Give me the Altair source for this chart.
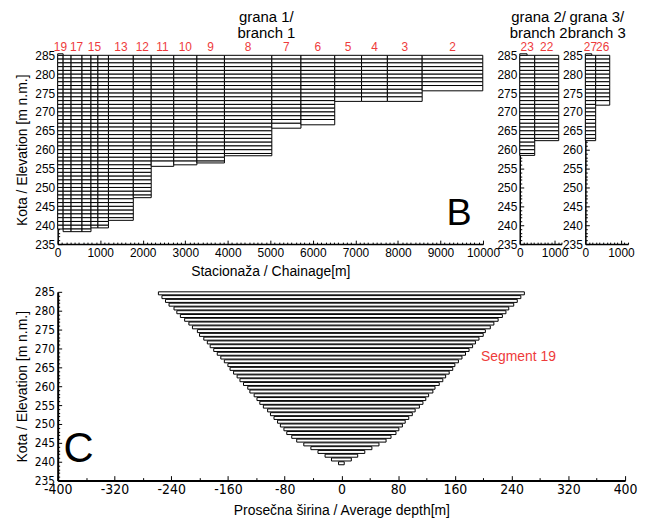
import altair as alt
import pandas as pd

# ---------------- data ----------------
TOP = 285.0
ROW = 1.0

# branch 1 segments (chainage start / end [m], bed elevation [m n.m.])
b1_label = ["19", "", "17", "", "15", "", "13", "12", "11", "10", "9", "8", "7", "6", "5", "4", "3", "2"]
b1_start = [0, 128, 315, 572, 783, 946, 1194, 1778, 2199, 2729, 3273, 3921, 5035, 5720, 6514, 7145, 7752, 8570]
b1_end = [128, 315, 572, 783, 946, 1194, 1778, 2199, 2729, 3273, 3921, 5035, 5720, 6514, 7145, 7752, 8570, 9995]
b1_bottom = [239.0, 238.3, 238.3, 238.3, 239.3, 239.3, 241.3, 247.3, 255.6, 256.0, 256.5, 258.4, 265.7, 266.6, 272.8, 272.8, 272.8, 275.6]

# branch 2
b2_label = ["23", "22"]
b2_start = [0, 430]
b2_end = [430, 1120]
b2_bottom = [258.5, 262.4]

# branch 3
b3_label = ["27", "26"]
b3_start = [0, 290]
b3_end = [290, 685]
b3_bottom = [262.4, 271.8]

# small cap boxes on the first segment of each branch
cap_end = [128, 210, 180]
cap_top = 285.4

# segment 19 cross-section: elevation levels and half widths [m]
c_elev = [285, 284, 283, 282, 281, 280, 279, 278, 277, 276, 275, 274, 273, 272, 271, 270,
          269, 268, 267, 266, 265, 264, 263, 262, 261, 260, 259, 258, 257, 256, 255, 254,
          253, 252, 251, 250, 249, 248, 247, 246, 245, 244, 243, 242, 241, 240]
c_half = [258, 253, 248, 243, 236, 232, 227, 221, 215, 210, 203, 200, 194, 189, 185, 180,
          175, 170, 165, 160, 157, 152, 147, 143, 138, 132, 129, 123, 119, 115, 110, 104,
          100, 95, 90, 86, 81, 77, 70, 63, 53, 43, 33, 23, 14, 4]

y_ticks = list(range(235, 286))
xb_ticks = list(range(0, 10001, 100))
xs_ticks = list(range(0, 1201, 100))
xc_ticks = list(range(-400, 401, 40))

FONT = "Liberation Sans"
NARROW = "Liberation Sans Narrow, DejaVu Sans Condensed, Liberation Sans"
RED = "#ee3b3b"


def rows(labels, starts, ends, bottoms, cap):
    out = []
    for lab, a, b, bot in zip(labels, starts, ends, bottoms):
        t = TOP
        while t > bot + 1e-6:
            lo = t - ROW
            if lo - bot < 0.5 * ROW:
                lo = bot
            out.append({"x": a, "x2": b, "y": lo, "y2": t})
            t = lo
    out.append({"x": starts[0], "x2": cap, "y": TOP, "y2": cap_top})
    return pd.DataFrame(out)


def seg_labels(labels, starts, ends):
    return pd.DataFrame({"lab": labels, "x": starts, "x2": ends})


def y_axis(title=None, font=FONT, size=12, width=1.5):
    kw = dict(values=y_ticks, labelExpr="datum.value % 5 === 0 ? '' + datum.value : ''",
              tickSize={"expr": "datum.value % 5 === 0 ? -4 : -2"}, labelPadding=7,
              labelFont=font, labelFontSize=size, labelOverlap=False, grid=False,
              domainColor="black", domainWidth=width, tickColor="black", labelColor="black",
              labelFlush=False)
    if title:
        kw.update(title=title, titleFont=FONT, titleFontSize=14, titleFontWeight="normal",
                  titlePadding=5, titleColor="black")
    else:
        kw.update(title=None)
    return alt.Axis(**kw)


def x_axis(values, major, title=None, font=FONT, size=12, width=1.5, big=-4, small=-2):
    kw = dict(values=values, labelExpr=f"datum.value % {major} === 0 ? '' + datum.value : ''",
              tickSize={"expr": f"datum.value % {major} === 0 ? {big} : {small}"},
              labelPadding=7, labelFont=font, labelFontSize=size, labelOverlap=False,
              grid=False, domainColor="black", domainWidth=width, tickColor="black",
              labelColor="black", labelFlush=False)
    if title:
        kw.update(title=title, titleFont=FONT, titleFontSize=14, titleFontWeight="normal",
                  titlePadding=5, titleColor="black")
    else:
        kw.update(title=None)
    return alt.Axis(**kw)


def panel(labels, starts, ends, bottoms, cap, xdom, xticks, width, title, ytitle, xtitle, title_dx=0):
    xs = alt.Scale(domain=xdom, nice=False, zero=False)
    ys = alt.Scale(domain=[235, 285], nice=False, zero=False)
    xa = x_axis(xticks, 1000, xtitle)
    ya = y_axis(ytitle)
    df = rows(labels, starts, ends, bottoms, cap)
    bars = alt.Chart(df).mark_rect(fill="white", stroke="black", strokeWidth=1).encode(
        x=alt.X("x:Q", scale=xs, axis=xa),
        x2="x2:Q",
        y=alt.Y("y:Q", scale=ys, axis=ya),
        y2="y2:Q",
    )
    txt = alt.Chart(seg_labels(labels, starts, ends)).transform_calculate(
        mid="(datum.x + datum.x2) / 2").mark_text(
        color=RED, font=FONT, fontSize=12, baseline="middle", align="center").encode(
        x=alt.X("mid:Q", scale=xs, axis=xa), y=alt.value(-8), text="lab:N")
    return alt.layer(bars, txt).properties(
        width=width, height=190,
        title=alt.TitleParams(title, font=FONT, fontSize=15, fontWeight="normal", color="black",
                              anchor="middle", offset=0, lineHeight=16.5, dx=title_dx))


pB = panel(b1_label, b1_start, b1_end, b1_bottom, cap_end[0], [0, 10000], xb_ticks, 428,
           ["grana 1/", "branch 1"], "Kota / Elevation [m n.m.]", "Stacionaža / Chainage[m]", -4)
bigB = alt.Chart(pd.DataFrame({"t": ["B"]})).mark_text(
    font=FONT, fontSize=38, align="center", baseline="alphabetic", color="black").encode(
    x=alt.value(404), y=alt.value(171), text="t:N")
pB = alt.layer(pB, bigB)

pB2 = panel(b2_label, b2_start, b2_end, b2_bottom, cap_end[1], [0, 1200], xs_ticks, 42,
            ["grana 2/", "branch 2"], None, None, -2)
pB3 = panel(b3_label, b3_start, b3_end, b3_bottom, cap_end[2], [0, 1200], xs_ticks, 43,
            ["grana 3/", "branch 3"], None, None, -10)

# panel C
cdf = pd.DataFrame({"elev": c_elev, "half": c_half})
cx = alt.Scale(domain=[-400, 400], nice=False, zero=False)
cy = alt.Scale(domain=[235, 285], nice=False, zero=False)
cbars = alt.Chart(cdf).transform_calculate(
    left="-datum.half", low="datum.elev - 0.8").mark_rect(
    fill="white", stroke="black", strokeWidth=1).encode(
    x=alt.X("left:Q", scale=cx, axis=x_axis(xc_ticks, 80, "Prosečna širina / Average depth[m]",
                                            font=NARROW, size=14, width=2, big=-5, small=-3)),
    x2="half:Q",
    y=alt.Y("low:Q", scale=cy, axis=y_axis("Kota / Elevation [m n.m.]", font=NARROW, size=12, width=2)),
    y2="elev:Q",
)
bigC = alt.Chart(pd.DataFrame({"t": ["C"]})).mark_text(
    font=FONT, fontSize=42, align="center", baseline="alphabetic", color="black").encode(
    x=alt.value(21), y=alt.value(171), text="t:N")
segtxt = alt.Chart(pd.DataFrame({"t": ["Segment 19"]})).mark_text(
    font=FONT, fontSize=14, align="left", baseline="middle", color=RED).encode(
    x=alt.value(426), y=alt.value(66), text="t:N")
pC = alt.layer(cbars, bigC, segtxt).properties(width=571, height=190)

top = alt.hconcat(pB, alt.hconcat(pB2, pB3, spacing=24, bounds="flush"), spacing=37, bounds="flush")
chart = alt.vconcat(top, pC, spacing=7).properties(
    padding={"left": 7, "top": 0, "right": 0, "bottom": 0},
    background="white",
).configure_view(stroke=None)

chart.save("out.html", embed_options={"renderer": "svg", "actions": False})
